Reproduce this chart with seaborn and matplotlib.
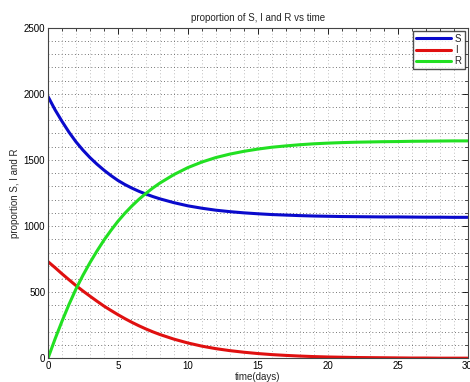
import numpy as np
import pandas as pd
import matplotlib
matplotlib.use('Agg')
import matplotlib.pyplot as plt
import seaborn as sns
from matplotlib.ticker import MultipleLocator

# values (half-day steps early, then daily)
days = [0, 0.5, 1, 1.5, 2, 2.5, 3, 3.5, 4, 4.5, 5, 5.5, 6, 6.5, 7, 7.5, 8,
        9, 10, 11, 12, 13, 14, 15, 16, 17, 18, 19, 20, 21, 22, 23, 24, 25, 26,
        27, 28, 29, 30]
S = [1980, 1880, 1792, 1710, 1637, 1574, 1518, 1468, 1423, 1382, 1345, 1314, 1287,
     1263, 1242, 1223, 1206, 1177, 1153, 1135, 1120, 1109, 1100, 1093, 1087, 1083,
     1079, 1076, 1074, 1072, 1071, 1070, 1069, 1069, 1068, 1067, 1067, 1066, 1066]
I = [731, 686, 639, 594, 550, 509, 470, 432, 395, 362, 330, 300, 272, 246, 222, 200,
     180, 145, 116, 92, 73, 58, 46, 36, 28, 22, 17, 13, 10, 8, 6, 5, 4, 3, 2, 2, 1,
     1, 1]
R = [0, 145, 280, 407, 524, 628, 723, 811, 893, 967, 1036, 1097, 1152, 1202, 1247,
     1288, 1325, 1389, 1442, 1484, 1518, 1544, 1565, 1582, 1596, 1606, 1615, 1622,
     1627, 1631, 1634, 1636, 1638, 1639, 1641, 1642, 1643, 1644, 1644]
labels = ['S', 'I', 'R']
colors = ['#0a0acc', '#e01010', '#22e022']

n = len(days)
df = pd.DataFrame({'time': days * 3,
                   'value': S + I + R,
                   'group': ['S'] * n + ['I'] * n + ['R'] * n})

sns.set_style('white')
plt.rcParams['font.family'] = ['Liberation Sans', 'DejaVu Sans']
plt.rcParams['font.size'] = 7

fig = plt.figure(figsize=(4.7, 3.82), dpi=100)
ax = fig.add_axes([48 / 470, 1 - 358.3 / 382, 419.5 / 470, (358.3 - 27.7) / 382])

sns.lineplot(data=df, x='time', y='value', hue='group', hue_order=labels,
             palette=colors, linewidth=2.2, ax=ax)

ax.set_xlim(0, 30)
ax.set_ylim(0, 2500)
ax.xaxis.set_major_locator(MultipleLocator(5))
ax.xaxis.set_minor_locator(MultipleLocator(1))
ax.yaxis.set_major_locator(MultipleLocator(500))
ax.yaxis.set_minor_locator(MultipleLocator(100))
ax.grid(which='both', axis='y', linestyle=(0, (0.8, 2.6)), color='#555555', linewidth=0.7)
ax.grid(which='both', axis='x', linestyle=(0, (0.8, 2.6)), color='#b0b0b0', linewidth=0.7)
ax.tick_params(which='both', direction='in', top=True, right=True, labelsize=7,
               colors='black', pad=2)
ax.tick_params(which='major', length=4, width=0.6)
ax.tick_params(which='minor', length=2, width=0.5)
for sp in ax.spines.values():
    sp.set_color('#444444')
    sp.set_linewidth(0.8)

ax.set_title('proportion of S, I and R vs time', fontsize=7, pad=5)
ax.set_xlabel('time(days)', fontsize=7, labelpad=1)
ax.set_ylabel('proportion S, I and R', fontsize=7, labelpad=3)

leg = ax.legend(loc='upper right', fontsize=7, frameon=True, fancybox=False,
                handlelength=3.6, handletextpad=0.4, borderpad=0.3, labelspacing=0.15,
                borderaxespad=0.3)
leg.get_frame().set_edgecolor('#222222')
leg.get_frame().set_linewidth(1.0)
for line in leg.get_lines():
    line.set_linewidth(2.2)

fig.savefig('out.png', dpi=100)
